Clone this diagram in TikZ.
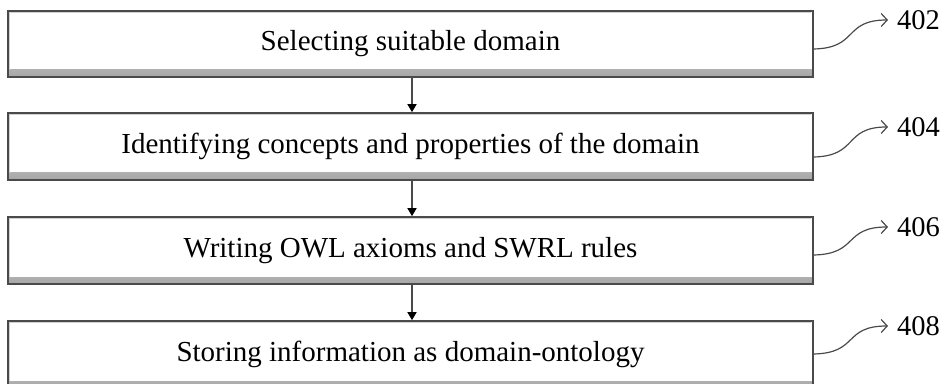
\documentclass[tikz,border=0pt]{standalone}
\usepackage{fontspec}
\setmainfont{Liberation Serif}
\usetikzlibrary{arrows.meta,calc}
\definecolor{edgegray}{HTML}{4A4A4A}
\tikzset{
  stepbox/.style={draw=edgegray, line width=1.6pt, fill=white,
    minimum width=805pt, minimum height=66pt, inner sep=0pt,
    font=\fontsize{29}{30}\selectfont,
    path picture={
      \shade[top color=white, bottom color=black!35]
        ($(path picture bounding box.south west)+(0,7pt)$) rectangle (path picture bounding box.south east);
      \draw[black!18, line width=1pt]
        ($(path picture bounding box.south west)+(1.6pt,7pt)$) -- ($(path picture bounding box.north west)+(1.6pt,-1.6pt)$)
        -- ($(path picture bounding box.north east)+(-1.6pt,-1.6pt)$);
    }},
  flow/.style={draw=edgegray, line width=1.4pt, -{Triangle[length=8pt,width=9pt,color=black]}},
  refline/.style={draw=edgegray, line width=1.2pt, -{Straight Barb[length=6pt,width=13pt,line width=1.2pt]}},
  reflabel/.style={anchor=west, inner sep=0pt, font=\fontsize{28.5}{30}\selectfont}
}
\newcommand{\lowtext}[1]{\raisebox{-3pt}{#1}}
\begin{document}
\begin{tikzpicture}[x=1pt,y=1pt]
\useasboundingbox (0,0) rectangle (944,383);
\clip (0,0) rectangle (944,383);
\node[stepbox] (b1) at (410.5,339) {\lowtext{Selecting suitable domain}};
\node[stepbox, minimum height=67pt] (b2) at (410.5,236.5) {\lowtext{Identifying concepts and properties of the domain}};
\node[stepbox, minimum height=67pt] (b3) at (410.5,132.5) {\lowtext{Writing OWL axioms and SWRL rules}};
\node[stepbox, minimum height=67pt] (b4) at (410.5,28.5) {\lowtext{Storing information as domain-ontology}};
\draw[flow] (b1.south -| 412,0) -- (b2.north -| 412,0);
\draw[flow] (b2.south -| 412,0) -- (b3.north -| 412,0);
\draw[flow] (b3.south -| 412,0) -- (b4.north -| 412,0);
\coordinate (s1) at (b1.east |- 0,334);
\coordinate (s2) at (b2.east |- 0,226);
\coordinate (s3) at (b3.east |- 0,128);
\coordinate (s4) at (b4.east |- 0,29);
\coordinate (t1) at (888,363);
\coordinate (t2) at (888,256);
\coordinate (t3) at (888,156);
\coordinate (t4) at (888,57);
\node[reflabel] (l1) at (897,363) {402};
\node[reflabel] (l2) at (897,256) {404};
\node[reflabel] (l3) at (897,156) {406};
\node[reflabel] (l4) at (897,57) {408};
\foreach \i in {1,2,3,4} {
  \draw[refline] (s\i) .. controls ($(s\i)+(45,1)$) and ($(t\i)+(-45,0)$) .. (t\i);
}
\end{tikzpicture}
\end{document}
